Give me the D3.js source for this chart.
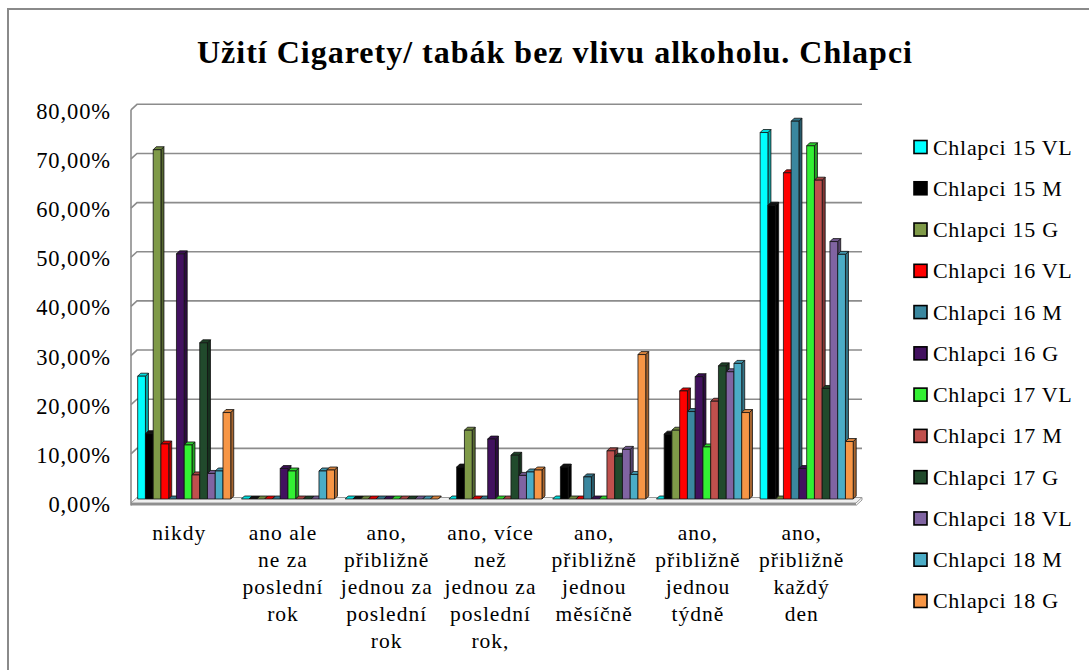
<!DOCTYPE html>
<html>
<head>
<meta charset="utf-8">
<script src="https://cdn.jsdelivr.net/npm/d3@7"></script>
<style>
  html, body { margin: 0; padding: 0; background: #fff; }
</style>
</head>
<body>
<svg id="chart" width="1089" height="670"></svg>
<script>
// ---- data -------------------------------------------------------------
const chartTitle = "Užití Cigarety/ tabák bez vlivu alkoholu. Chlapci";

const categories = [
  "nikdy",
  "ano ale ne za poslední rok",
  "ano, přibližně jednou za poslední rok",
  "ano, více než jednou za poslední rok,",
  "ano, přibližně jednou měsíčně",
  "ano, přibližně jednou týdně",
  "ano, přibližně každý den"
];
const categoryLines = [
  ["nikdy"],
  ["ano ale", "ne za", "poslední", "rok"],
  ["ano,", "přibližně", "jednou za", "poslední", "rok"],
  ["ano, více", "než", "jednou za", "poslední", "rok,"],
  ["ano,", "přibližně", "jednou", "měsíčně"],
  ["ano,", "přibližně", "jednou", "týdně"],
  ["ano,", "přibližně", "každý", "den"]
];

const seriesNames = [
  "Chlapci 15 VL", "Chlapci 15 M", "Chlapci 15 G",
  "Chlapci 16 VL", "Chlapci 16 M", "Chlapci 16 G",
  "Chlapci 17 VL", "Chlapci 17 M", "Chlapci 17 G",
  "Chlapci 18 VL", "Chlapci 18 M", "Chlapci 18 G"
];
const seriesColors = [
  "#00ffff", "#000000", "#7f9a48",
  "#ff0000", "#3a879f", "#42115f",
  "#33f033", "#c0504d", "#214a2c",
  "#8064a2", "#4bacc6", "#f79646"
];

// percentages per category, in the order of `categories`
const chlapci15VL = [25.0, 0, 0, 0, 0, 0, 74.6];
const chlapci15M  = [13.3, 0, 0, 6.5, 6.5, 13.2, 59.8];
const chlapci15G  = [71.1, 0, 0, 14.0, 0, 14.0, 0];
const chlapci16VL = [11.2, 0, 0, 0, 0, 22.0, 66.4];
const chlapci16M  = [0, 0, 0, 0, 4.5, 17.8, 76.9];
const chlapci16G  = [49.9, 6.2, 0, 12.2, 0, 24.9, 6.2];
const chlapci17VL = [11.0, 5.7, 0, 0, 0, 10.6, 71.9];
const chlapci17M  = [4.9, 0, 0, 0, 9.8, 19.9, 64.9];
const chlapci17G  = [31.8, 0, 0, 8.9, 8.7, 27.1, 22.5];
const chlapci18VL = [5.2, 0, 0, 4.8, 10.1, 25.9, 52.4];
const chlapci18M  = [5.7, 5.7, 0, 5.5, 5.0, 27.6, 49.8];
const chlapci18G  = [17.6, 5.9, 0, 5.9, 29.4, 17.6, 11.7];

const seriesValues = [
  chlapci15VL, chlapci15M, chlapci15G,
  chlapci16VL, chlapci16M, chlapci16G,
  chlapci17VL, chlapci17M, chlapci17G,
  chlapci18VL, chlapci18M, chlapci18G
];

const yTicks = [0, 10, 20, 30, 40, 50, 60, 70, 80];
const yTickLabels = ["0,00%", "10,00%", "20,00%", "30,00%", "40,00%", "50,00%", "60,00%", "70,00%", "80,00%"];

// ---- layout -----------------------------------------------------------
const W = 1089, H = 670;
const serif = '"Liberation Serif"';
const svg = d3.select("#chart");

// outer chart frame (runs past the right and bottom edges)
svg.append("rect")
  .attr("x", 8).attr("y", 9)
  .attr("width", W).attr("height", H)
  .attr("fill", "#fff")
  .attr("stroke", "#8a8a8a").attr("stroke-width", 2);

// title
svg.append("text")
  .attr("x", 555).attr("y", 63)
  .attr("text-anchor", "middle")
  .style("font-family", serif)
  .style("font-weight", "bold")
  .style("font-size", "32px")
  .style("letter-spacing", "1px")
  .text(chartTitle);

// 3D box geometry: back wall and front edge offset
const wallLeft = 137, wallRight = 862;
const front = { dx: -6, dy: 5.5 };
const yWall = d3.scaleLinear([0, 80], [497.5, 104.3]);
const yBar = d3.scaleLinear([0, 80], [499, 106]);

const x0 = d3.scaleBand(categories, [132.5, 858.4]).paddingInner(0.103).paddingOuter(0.05);
const x1 = d3.scaleBand(seriesNames, [0, x0.bandwidth()]);

// floor
const floorY = yWall(0);
svg.append("path")
  .attr("d", `M${wallLeft + front.dx},${floorY + front.dy} L${wallLeft},${floorY} L${wallRight},${floorY} L${wallRight + front.dx},${floorY + front.dy} Z`)
  .attr("fill", "#f0f0f0").attr("stroke", "#9a9a9a").attr("stroke-width", 1);
svg.append("rect")
  .attr("x", wallLeft + front.dx).attr("y", floorY + front.dy)
  .attr("width", wallRight - wallLeft).attr("height", 2.5)
  .attr("fill", "#8f8f8f");
svg.append("path")
  .attr("d", `M${wallRight},${floorY} L${wallRight},${floorY + 2.5} L${wallRight + front.dx},${floorY + front.dy + 2.5}`)
  .attr("fill", "none").attr("stroke", "#9a9a9a");

// gridlines across the side and back walls
const grid = svg.append("g").attr("fill", "none").attr("stroke", "#8c8c8c").attr("stroke-width", 1.6);
yTicks.filter(t => t > 0).forEach(t => {
  const y = yWall(t);
  grid.append("path")
    .attr("d", `M${wallLeft + front.dx},${y + front.dy} L${wallLeft},${y} L${wallRight},${y}`);
});
// left wall front edge
grid.append("line")
  .attr("x1", wallLeft + front.dx).attr("x2", wallLeft + front.dx)
  .attr("y1", yWall(80) + front.dy).attr("y2", yWall(0) + front.dy + 2.5);

// y-axis labels
svg.append("g")
  .selectAll("text")
  .data(yTicks)
  .join("text")
  .attr("x", 111)
  .attr("y", d => yWall(d) + 7)
  .attr("text-anchor", "end")
  .attr("dominant-baseline", "central")
  .style("font-family", serif)
  .style("font-size", "22.5px")
  .style("letter-spacing", "0.9px")
  .text((d, i) => yTickLabels[i]);

// bars: front face, right side face and top face
const bd = { dx: 3, dy: -3 };
const bw = x1.bandwidth();
const bars = svg.append("g").attr("stroke", "#111").attr("stroke-width", 0.8).attr("stroke-linejoin", "round");
categories.forEach((cat, ci) => {
  seriesNames.forEach((name, si) => {
    const v = seriesValues[si][ci];
    const color = d3.color(seriesColors[si]);
    const x = x0(cat) + x1(name);
    const yt = yBar(v), yb = yBar(0);
    const g = bars.append("g");
    g.append("path")
      .attr("d", `M${x + bw},${yt} L${x + bw + bd.dx},${yt + bd.dy} L${x + bw + bd.dx},${yb + bd.dy} L${x + bw},${yb} Z`)
      .attr("fill", si === 1 ? "#000" : color.darker(1.1));
    g.append("path")
      .attr("d", `M${x},${yt} L${x + bd.dx},${yt + bd.dy} L${x + bw + bd.dx},${yt + bd.dy} L${x + bw},${yt} Z`)
      .attr("fill", si === 1 ? "#111" : color.darker(0.4));
    g.append("rect")
      .attr("x", x).attr("y", yt)
      .attr("width", bw).attr("height", Math.max(0, yb - yt))
      .attr("fill", color);
  });
});

// category labels
const catLabels = svg.append("g").attr("text-anchor", "middle");
categories.forEach((cat, ci) => {
  const cx = x0(cat) + x0.bandwidth() / 2 - 5;
  const t = catLabels.append("text")
    .attr("x", cx).attr("y", 540)
    .style("font-family", serif)
    .style("font-size", "21.5px")
    .style("letter-spacing", "1px");
  categoryLines[ci].forEach((line, li) => {
    t.append("tspan").attr("x", cx).attr("y", 540 + li * 27).text(line);
  });
});

// legend
const legend = svg.append("g");
seriesNames.forEach((name, i) => {
  const cy = 147 + i * 41.27;
  legend.append("rect")
    .attr("x", 914).attr("y", cy - 6.5)
    .attr("width", 13).attr("height", 13)
    .attr("fill", seriesColors[i])
    .attr("stroke", "#000").attr("stroke-width", 1.6);
  legend.append("text")
    .attr("x", 933).attr("y", cy)
    .attr("dominant-baseline", "central")
    .style("font-family", serif)
    .style("font-size", "22px")
    .style("letter-spacing", "0.7px")
    .text(name);
});
</script>
</body>
</html>
